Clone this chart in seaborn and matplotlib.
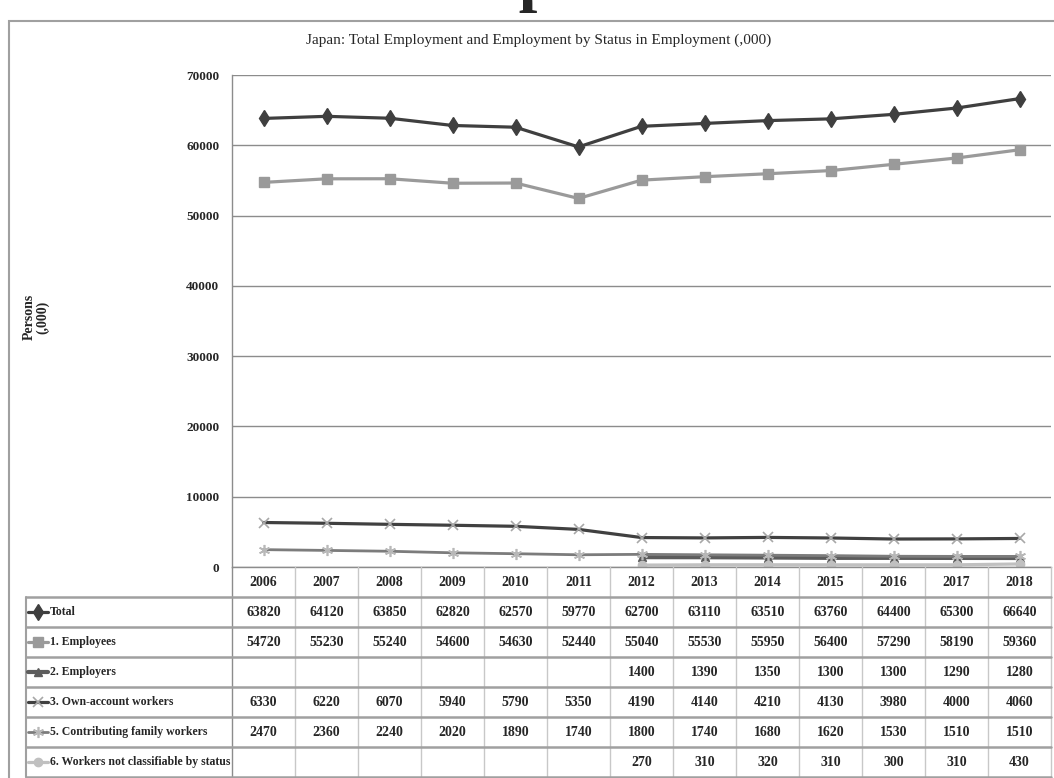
import numpy as np
import pandas as pd
import seaborn as sns
import matplotlib.pyplot as plt
from matplotlib.patches import Rectangle
from matplotlib.transforms import blended_transform_factory

years = list(range(2006, 2019))
total = [63820, 64120, 63850, 62820, 62570, 59770, 62700, 63110, 63510, 63760, 64400, 65300, 66640]
employees = [54720, 55230, 55240, 54600, 54630, 52440, 55040, 55530, 55950, 56400, 57290, 58190, 59360]
employers = [None] * 6 + [1400, 1390, 1350, 1300, 1300, 1290, 1280]
own_account = [6330, 6220, 6070, 5940, 5790, 5350, 4190, 4140, 4210, 4130, 3980, 4000, 4060]
contributing = [2470, 2360, 2240, 2020, 1890, 1740, 1800, 1740, 1680, 1620, 1530, 1510, 1510]
not_classifiable = [None] * 6 + [270, 310, 320, 310, 300, 310, 430]

series_names = ["Total", "1. Employees", "2. Employers", "3. Own-account workers",
                "5. Contributing family workers", "6. Workers not classifiable by status"]
series_values = [total, employees, employers, own_account, contributing, not_classifiable]

title = "Japan: Total Employment and Employment by Status in Employment (,000)"
yticks = list(range(0, 70001, 10000))

df = pd.DataFrame({"year": years})
for name, vals in zip(series_names, series_values):
    df[name] = pd.Series(vals, dtype="float")

# styles (Excel-like greyscale)
styles = {
    "Total": dict(color="#3f3f3f", lw=2.3, marker="d", ms=8, mc="#3f3f3f", mew=1),
    "1. Employees": dict(color="#9a9a9a", lw=2.3, marker="s", ms=7, mc="#9a9a9a", mew=1),
    "2. Employers": dict(color="#5c5c5c", lw=3.0, marker="^", ms=6, mc="#5c5c5c", mew=1),
    "3. Own-account workers": dict(color="#404040", lw=2.3, marker="x", ms=7, mc="#a8a8a8", mew=1.2),
    "5. Contributing family workers": dict(color="#7c7c7c", lw=2.0, marker=(6, 2, 0), ms=8, mc="#b8b8b8", mew=1.2),
    "6. Workers not classifiable by status": dict(color="#c0c0c0", lw=2.3, marker="o", ms=6, mc="#c0c0c0", mew=1),
}

sns.set_style("white")
plt.rcParams['font.family'] = ['Liberation Serif', 'DejaVu Serif']

W_PX, H_PX = 1054, 778
fig = plt.figure(figsize=(W_PX / 100, H_PX / 100), dpi=100)


def box(l, t, r, b):
    # pixel box -> figure fraction rect
    return [l / W_PX, 1 - b / H_PX, (r - l) / W_PX, (b - t) / H_PX]


L, R = 232, 1051
ax = fig.add_axes(box(L, 75, R, 567))
tax = fig.add_axes(box(L, 567, R, 777))


def fx(px):
    return (px - L) / (R - L)


# chart lines
for name in series_names:
    st = styles[name]
    sns.lineplot(data=df, x="year", y=name, ax=ax, color=st["color"], linewidth=st["lw"],
                 marker=st["marker"], markersize=st["ms"], markerfacecolor=st["mc"],
                 markeredgecolor=st["mc"], markeredgewidth=st["mew"],
                 errorbar=None, legend=False)

ax.set_xlim(years[0] - 0.5, years[-1] + 0.5)
ax.set_ylim(0, 70000)
ax.set_yticks(yticks)
ax.set_yticklabels([str(v) for v in yticks], fontweight="bold", fontsize=9.5)
ax.set_xticks([])
ax.set_xlabel("")
ax.set_ylabel("")
ax.tick_params(axis="y", length=0, pad=9)
ax.grid(axis="y", color="#8c8c8c", lw=1)
ax.set_axisbelow(True)
for s in ["top", "right"]:
    ax.spines[s].set_visible(False)
for s in ["left", "bottom"]:
    ax.spines[s].set_color("#8c8c8c")
    ax.spines[s].set_linewidth(1)

# data table under the plot
tax.set_xlim(years[0] - 0.5, years[-1] + 0.5)
tax.set_ylim(7, 0)
tax.axis("off")
blend = blended_transform_factory(tax.transAxes, tax.transData)

for k in range(len(years) + 1):
    x = years[0] - 0.5 + k
    tax.plot([x, x], [0, 7], color="#8c8c8c" if k == 0 else "#c8c8c8", lw=1, clip_on=False)
tax.plot([fx(26), fx(26)], [1, 7], transform=blend, color="#a0a0a0", lw=1.5, clip_on=False)
for r in range(1, 8):
    tax.plot([fx(26), 1], [r, r], transform=blend, color="#a0a0a0", lw=1.8, clip_on=False)

for y in years:
    tax.text(y, 0.5, str(y), ha="center", va="center", fontsize=10, fontweight="bold")

for r, (name, vals) in enumerate(zip(series_names, series_values), start=1):
    for y, v in zip(years, vals):
        if v is not None:
            tax.text(y, r + 0.5, str(v), ha="center", va="center", fontsize=10, fontweight="bold")
    st = styles[name]
    tax.plot([fx(28), fx(38), fx(48)], [r + 0.5] * 3, transform=blend, color=st["color"], lw=st["lw"],
             marker=st["marker"], markevery=[1], ms=st["ms"], mfc=st["mc"], mec=st["mc"],
             mew=st["mew"], clip_on=False)
    tax.text(fx(50), r + 0.5, name, transform=blend, ha="left", va="center",
             fontsize=8.5, fontweight="bold", clip_on=False)

# titles and axis label
fig.text(539 / W_PX, 1 - 40 / H_PX, title, ha="center", va="center", fontsize=11)
fig.text(539 / W_PX, 1 + 1 / H_PX, "Japan", ha="center", va="baseline", fontsize=48, fontweight="bold")
fig.text(36 / W_PX, 1 - 317 / H_PX, "Persons\n(,000)", rotation=90, ha="center", va="center",
         fontsize=10, fontweight="bold", linespacing=1.0)

# outer chart border
fig.add_artist(Rectangle((9 / W_PX, -0.1), 1.2, 1.1 - 21 / H_PX, transform=fig.transFigure,
                         fill=False, ec="#a0a0a0", lw=1.5))

fig.savefig("out.png", dpi=100)
